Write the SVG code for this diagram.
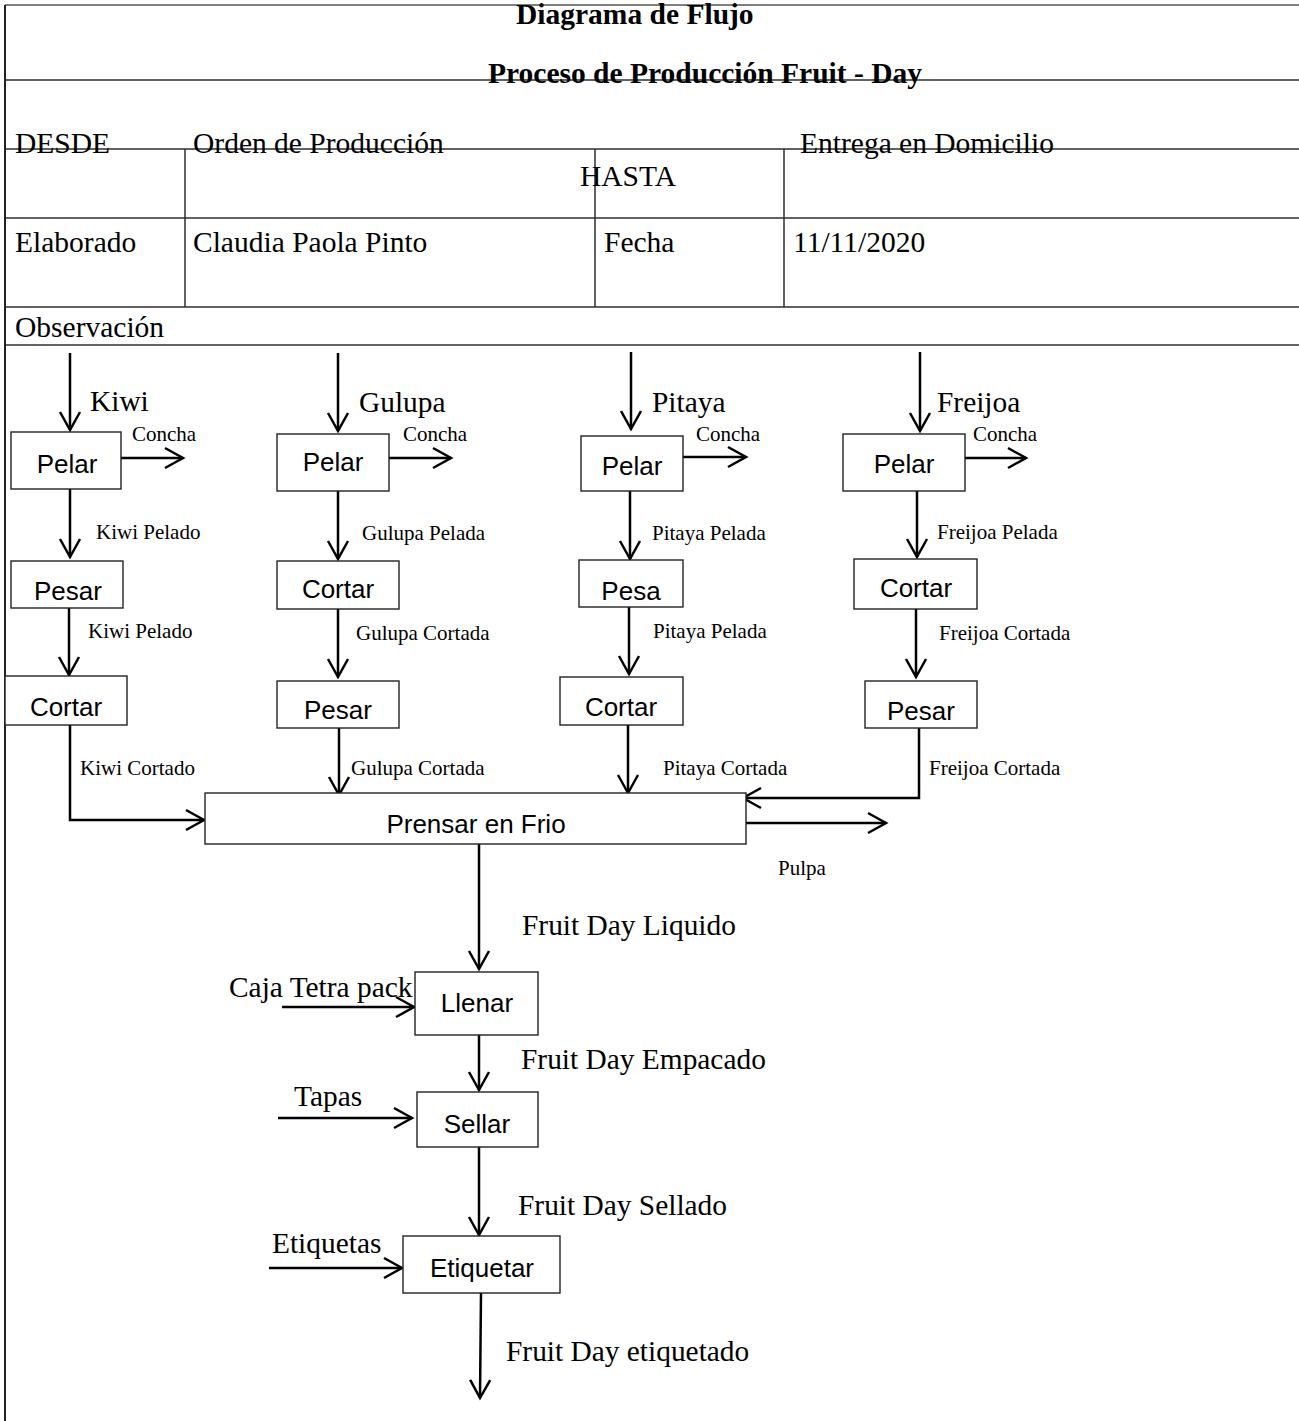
<svg xmlns="http://www.w3.org/2000/svg" width="1299" height="1421" viewBox="0 0 1299 1421">
<defs>
<style>
.tl{stroke:#2e2e2e;stroke-width:1.5;fill:none}
.hd{font-family:"Liberation Serif","Times New Roman",serif;font-size:29.5px;fill:#000}
.tt{font-family:"Liberation Serif","Times New Roman",serif;font-size:29.5px;font-weight:bold;fill:#000}
.big{font-family:"Liberation Serif","Times New Roman",serif;font-size:29.4px;fill:#000}
.sm{font-family:"Liberation Serif","Times New Roman",serif;font-size:21px;fill:#000}
.bx{fill:#fff;stroke:#222;stroke-width:1.4}
.bt{font-family:"Liberation Sans",Arial,sans-serif;font-size:26px;fill:#000;text-anchor:middle}
.c{stroke:#000;stroke-width:2.5;fill:none}
</style>
<marker id="ah" markerUnits="userSpaceOnUse" viewBox="-22 -12 24 24" refX="0" refY="0" markerWidth="24" markerHeight="24" orient="auto" overflow="visible">
<path d="M-18,-10 L0,0 L-18,10" fill="none" stroke="#000" stroke-width="2.5"/>
</marker>
</defs>
<rect width="1299" height="1421" fill="#fff"/>

<g id="table">
<line x1="5" y1="5" x2="1299" y2="5" stroke="#555" stroke-width="1.5"/>
<line class="tl" x1="5" y1="80" x2="1299" y2="80"/>
<line class="tl" x1="5" y1="149" x2="1299" y2="149"/>
<line class="tl" x1="5" y1="218" x2="1299" y2="218"/>
<line class="tl" x1="5" y1="307" x2="1299" y2="307"/>
<line class="tl" x1="5" y1="345" x2="1299" y2="345"/>
<line x1="5" y1="5" x2="5" y2="1421" stroke="#222" stroke-width="2"/>
<line class="tl" x1="185" y1="149" x2="185" y2="307"/>
<line class="tl" x1="595" y1="149" x2="595" y2="307"/>
<line class="tl" x1="784" y1="149" x2="784" y2="307"/>
<text class="tt" x="516" y="24">Diagrama de Flujo</text>
<text class="tt" x="488" y="83">Proceso de Producción Fruit - Day</text>
<text class="hd" x="15" y="153">DESDE</text>
<text class="hd" x="193" y="153">Orden de Producción</text>
<text class="hd" x="800" y="153">Entrega en Domicilio</text>
<text class="hd" x="580" y="186">HASTA</text>
<text class="hd" x="15" y="252">Elaborado</text>
<text class="hd" x="193" y="252">Claudia Paola Pinto</text>
<text class="hd" x="604" y="252">Fecha</text>
<text class="hd" x="793" y="252">11/11/2020</text>
<text class="hd" x="15" y="337">Observación</text>
</g>

<g id="connectors">
<path class="c" d="M70,353 V430" marker-end="url(#ah)"/>
<path class="c" d="M121,458 H183" marker-end="url(#ah)"/>
<path class="c" d="M70,489 V557" marker-end="url(#ah)"/>
<path class="c" d="M69,608 V675" marker-end="url(#ah)"/>
<path class="c" d="M70,725 V820 H204" marker-end="url(#ah)"/>
<path class="c" d="M338,353 V431" marker-end="url(#ah)"/>
<path class="c" d="M389,458 H451" marker-end="url(#ah)"/>
<path class="c" d="M338,491 V559" marker-end="url(#ah)"/>
<path class="c" d="M338,609 V677" marker-end="url(#ah)"/>
<path class="c" d="M339,728 V795" marker-end="url(#ah)"/>
<path class="c" d="M631,352 V429" marker-end="url(#ah)"/>
<path class="c" d="M683,457 H746" marker-end="url(#ah)"/>
<path class="c" d="M630,491 V559" marker-end="url(#ah)"/>
<path class="c" d="M629,607 V674" marker-end="url(#ah)"/>
<path class="c" d="M628,725 V793" marker-end="url(#ah)"/>
<path class="c" d="M920,352 V431" marker-end="url(#ah)"/>
<path class="c" d="M965,458 H1026" marker-end="url(#ah)"/>
<path class="c" d="M917,491 V557" marker-end="url(#ah)"/>
<path class="c" d="M916,609 V677" marker-end="url(#ah)"/>
<path class="c" d="M919,728 V798 H743" marker-end="url(#ah)"/>
<path class="c" d="M746,823 H886" marker-end="url(#ah)"/>
<path class="c" d="M479,844 V969" marker-end="url(#ah)"/>
<path class="c" d="M282,1007 H414" marker-end="url(#ah)"/>
<path class="c" d="M479,1035 V1090" marker-end="url(#ah)"/>
<path class="c" d="M278,1118 H412" marker-end="url(#ah)"/>
<path class="c" d="M479,1147 V1235" marker-end="url(#ah)"/>
<path class="c" d="M269,1268 H402" marker-end="url(#ah)"/>
<path class="c" d="M481,1293 L480,1398" marker-end="url(#ah)"/>
</g>

<g id="labels">
<text class="big" x="90" y="411">Kiwi</text>
<text class="big" x="359" y="412">Gulupa</text>
<text class="big" x="652" y="412">Pitaya</text>
<text class="big" x="937" y="412">Freijoa</text>
<text class="sm" x="132" y="441">Concha</text>
<text class="sm" x="403" y="441">Concha</text>
<text class="sm" x="696" y="441">Concha</text>
<text class="sm" x="973" y="441">Concha</text>
<text class="sm" x="96" y="539">Kiwi Pelado</text>
<text class="sm" x="88" y="638">Kiwi Pelado</text>
<text class="sm" x="80" y="775">Kiwi Cortado</text>
<text class="sm" x="362" y="540">Gulupa Pelada</text>
<text class="sm" x="356" y="640">Gulupa Cortada</text>
<text class="sm" x="351" y="775">Gulupa Cortada</text>
<text class="sm" x="652" y="540">Pitaya Pelada</text>
<text class="sm" x="653" y="638">Pitaya Pelada</text>
<text class="sm" x="663" y="775">Pitaya Cortada</text>
<text class="sm" x="937" y="539">Freijoa Pelada</text>
<text class="sm" x="939" y="640">Freijoa Cortada</text>
<text class="sm" x="929" y="775">Freijoa Cortada</text>
<text class="sm" x="778" y="875">Pulpa</text>
<text class="big" x="522" y="935">Fruit Day Liquido</text>
<text class="big" x="229" y="997">Caja Tetra pack</text>
<text class="big" x="521" y="1069">Fruit Day Empacado</text>
<text class="big" x="294" y="1106">Tapas</text>
<text class="big" x="518" y="1215">Fruit Day Sellado</text>
<text class="big" x="272" y="1253">Etiquetas</text>
<text class="big" x="506" y="1361">Fruit Day etiquetado</text>
</g>

<g id="kiwi-pelar"><rect class="bx" x="11" y="432" width="110" height="57"/><text class="bt" x="67" y="473">Pelar</text></g>
<g id="kiwi-pesar"><rect class="bx" x="11" y="561" width="112" height="47"/><text class="bt" x="68" y="600">Pesar</text></g>
<g id="kiwi-cortar"><rect class="bx" x="5" y="676" width="122" height="49"/><text class="bt" x="66" y="716">Cortar</text></g>

<g id="gulupa-pelar"><rect class="bx" x="277" y="434" width="112" height="57"/><text class="bt" x="333" y="471">Pelar</text></g>
<g id="gulupa-cortar"><rect class="bx" x="277" y="561" width="122" height="48"/><text class="bt" x="338" y="598">Cortar</text></g>
<g id="gulupa-pesar"><rect class="bx" x="277" y="681" width="122" height="47"/><text class="bt" x="338" y="719">Pesar</text></g>

<g id="pitaya-pelar"><rect class="bx" x="581" y="436" width="102" height="55"/><text class="bt" x="632" y="475">Pelar</text></g>
<g id="pitaya-pesa"><rect class="bx" x="579" y="560" width="104" height="47"/><text class="bt" x="631" y="600">Pesa</text></g>
<g id="pitaya-cortar"><rect class="bx" x="560" y="677" width="123" height="48"/><text class="bt" x="621" y="716">Cortar</text></g>

<g id="freijoa-pelar"><rect class="bx" x="843" y="434" width="122" height="57"/><text class="bt" x="904" y="473">Pelar</text></g>
<g id="freijoa-cortar"><rect class="bx" x="854" y="559" width="123" height="50"/><text class="bt" x="916" y="597">Cortar</text></g>
<g id="freijoa-pesar"><rect class="bx" x="865" y="681" width="112" height="47"/><text class="bt" x="921" y="720">Pesar</text></g>

<g id="prensar"><rect class="bx" x="205" y="793" width="541" height="51"/><text class="bt" x="476" y="833">Prensar en Frio</text></g>
<g id="llenar"><rect class="bx" x="415" y="972" width="123" height="63"/><text class="bt" x="477" y="1012">Llenar</text></g>
<g id="sellar"><rect class="bx" x="417" y="1092" width="121" height="55"/><text class="bt" x="477" y="1133">Sellar</text></g>
<g id="etiquetar"><rect class="bx" x="403" y="1236" width="157" height="57"/><text class="bt" x="482" y="1277">Etiquetar</text></g>
</svg>
